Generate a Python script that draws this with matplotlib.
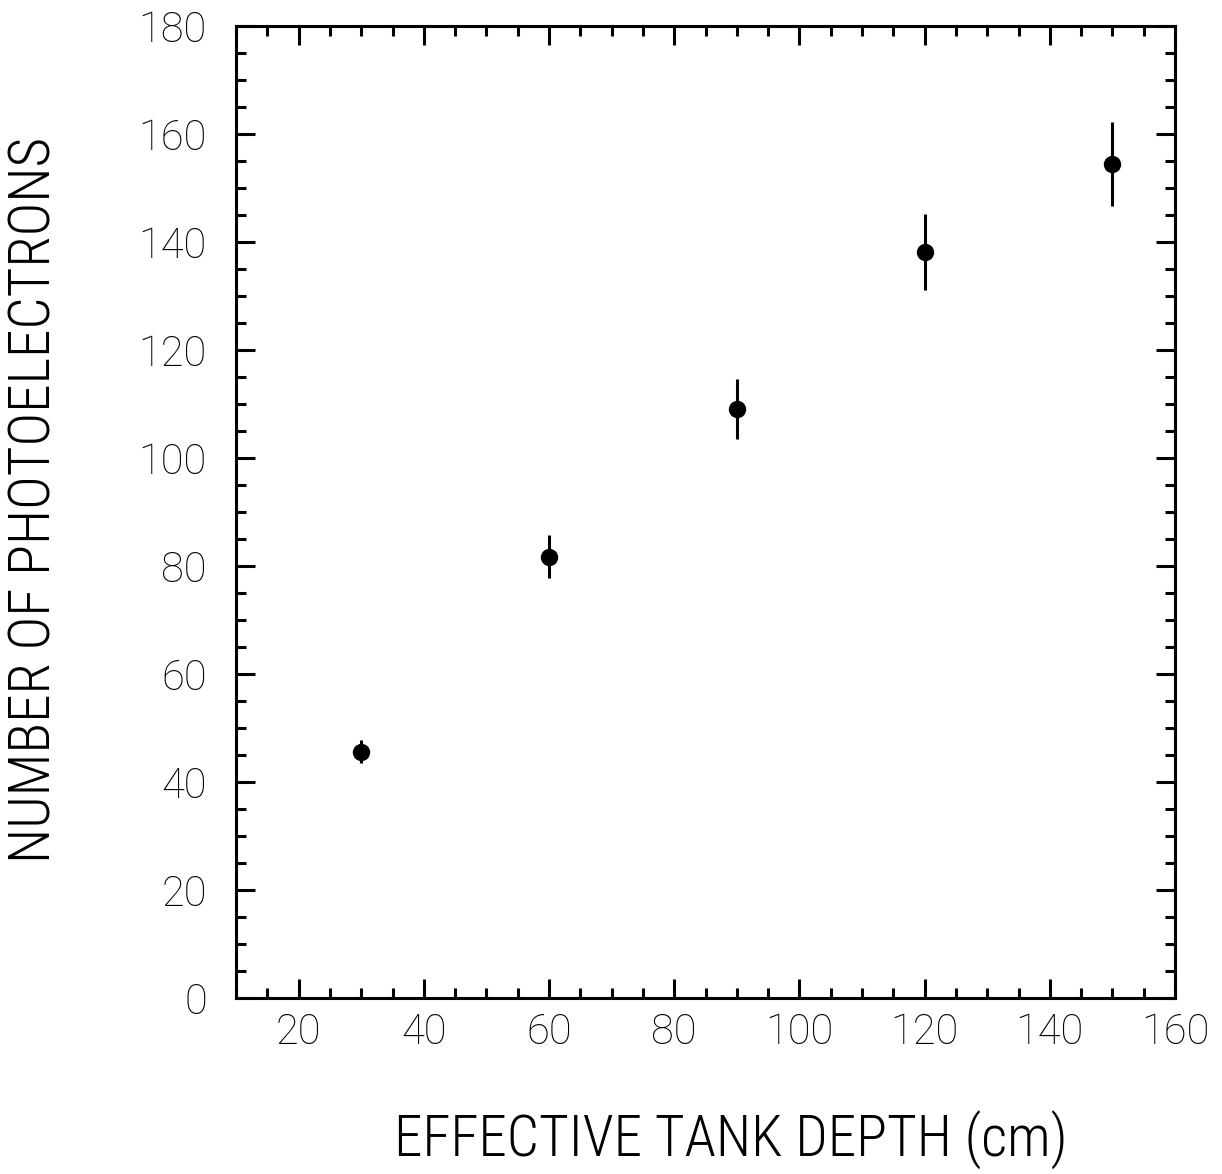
import matplotlib
matplotlib.use("Agg")
import matplotlib.pyplot as plt
from matplotlib.ticker import MultipleLocator

depth = [30, 60, 90, 120, 150]
photoelectrons = [45.6, 81.7, 109.1, 138.1, 154.4]
errors = [2.1, 4.0, 5.5, 7.0, 7.8]

W, H = 1222, 1174
fig = plt.figure(figsize=(W / 100, H / 100), dpi=100)
ax = fig.add_axes([236 / W, 1 - 998 / H, (1175 - 236) / W, (998 - 26) / H])

ax.errorbar(depth, photoelectrons, yerr=errors, fmt='o', color='black',
            markersize=11.5, elinewidth=2.2, capsize=0)

ax.set_xlim(10, 160)
ax.set_ylim(0, 180)
ax.xaxis.set_major_locator(MultipleLocator(20))
ax.xaxis.set_minor_locator(MultipleLocator(5))
ax.yaxis.set_major_locator(MultipleLocator(20))
ax.yaxis.set_minor_locator(MultipleLocator(5))

for s in ax.spines.values():
    s.set_linewidth(2.2)

ax.tick_params(which='both', direction='in', top=True, right=True, width=2.2)
ax.tick_params(which='major', length=14)
ax.tick_params(which='minor', length=7)
ax.tick_params(axis='x', which='major', pad=10, labelsize=30)
ax.tick_params(axis='y', which='major', pad=21, labelsize=30)
for lbl in ax.get_xticklabels() + ax.get_yticklabels():
    lbl.set_family(['Roboto', 'DejaVu Sans'])
    lbl.set_weight('light')

labfont = ['Roboto Condensed', 'DejaVu Sans']
fig.text(731 / W, 1 - 1140 / H, 'EFFECTIVE TANK DEPTH (cm)', ha='center', va='center',
         fontsize=41, family=labfont, weight='light')
fig.text(35 / W, 1 - 500 / H, 'NUMBER OF PHOTOELECTRONS', ha='center', va='center',
         rotation=90, fontsize=41, family=labfont, weight='light')

fig.savefig('out.png', dpi=100)
